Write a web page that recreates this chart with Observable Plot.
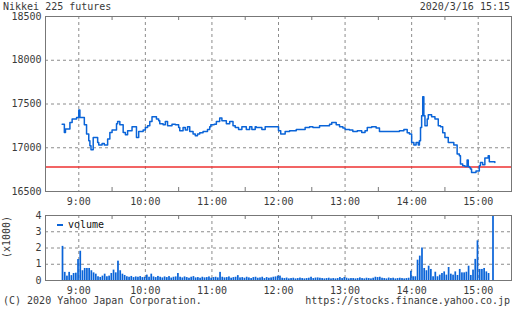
<!DOCTYPE html>
<html><head><meta charset="utf-8">
<script src="https://cdn.jsdelivr.net/npm/d3@7"></script>
<script src="https://cdn.jsdelivr.net/npm/@observablehq/plot@0.6"></script>
<style>
html,body{margin:0;padding:0;background:#fff;}
#chart{position:relative;width:512px;height:310px;overflow:hidden;font-family:"DejaVu Sans Mono",monospace;font-size:10px;color:#3a3a3a;}
.t{position:absolute;white-space:nowrap;line-height:12px;}
#chart svg{position:absolute;left:0;}
.sw{display:inline-block;width:6px;height:2px;background:#0a64d8;vertical-align:middle;margin-right:5px;}
</style></head><body>
<div id="chart">
  <div class="t" style="left:3px;top:1px">Nikkei 225 futures</div>
  <div class="t" style="right:2px;top:1px">2020/3/16 15:15</div>
  <div class="t" style="left:3px;top:295px">(C) 2020 Yahoo Japan Corporation.</div>
  <div class="t" style="right:2px;top:295px">https://stocks.finance.yahoo.co.jp</div>
</div>
<script>
// ---- data ----
const priceTimes = ["08:45","08:47","08:48","08:52","08:54","08:58","09:00","09:01","09:04","09:05","09:07","09:09","09:10","09:11","09:13","09:17","09:18","09:21","09:23","09:26","09:28","09:30","09:34","09:35","09:37","09:40","09:42","09:44","09:48","09:52","09:54","09:58","10:00","10:02","10:04","10:06","10:10","10:12","10:13","10:16","10:18","10:20","10:24","10:27","10:30","10:31","10:34","10:36","10:38","10:40","10:43","10:45","10:47","10:49","10:52","10:56","10:58","10:59","11:02","11:04","11:07","11:09","11:13","11:16","11:19","11:21","11:24","11:27","11:31","11:34","11:36","11:39","11:40","11:45","11:48","12:00","12:02","12:06","12:10","12:16","12:24","12:28","12:31","12:37","12:46","12:48","12:52","12:55","12:58","13:00","13:04","13:07","13:11","13:15","13:18","13:20","13:24","13:28","13:31","13:45","13:49","13:53","13:56","13:58","14:00","14:02","14:04","14:06","14:07","14:08","14:09","14:10","14:11","14:12","14:14","14:15","14:18","14:21","14:24","14:26","14:28","14:30","14:33","14:38","14:41","14:43","14:44","14:46","14:48","14:50","14:51","14:52","14:53","14:54","14:58","15:01","15:02","15:04","15:06","15:09","15:10","15:15"];
const prices = [17270,17175,17214,17290,17328,17347,17431,17347,17347,17264,17157,17080,17023,16977,17118,17060,17031,17050,17031,17099,17175,17203,17275,17300,17264,17175,17149,17195,17240,17118,17186,17203,17232,17251,17300,17355,17328,17310,17275,17264,17300,17251,17270,17264,17232,17195,17232,17203,17240,17186,17157,17137,17157,17172,17186,17210,17240,17263,17270,17300,17340,17310,17275,17300,17251,17232,17210,17240,17210,17240,17210,17240,17232,17210,17240,17195,17157,17186,17195,17210,17232,17240,17232,17251,17270,17290,17264,17240,17225,17210,17203,17186,17195,17175,17195,17232,17240,17225,17186,17186,17195,17210,17172,17157,17060,17031,17060,17031,17080,17232,17366,17583,17366,17251,17328,17377,17355,17328,17251,17240,17172,17118,17060,17031,16928,16908,16813,16795,16786,16859,16786,16775,16756,16717,16735,16795,16832,16805,16882,16908,16840,16832];
const prevClose = 16780;

const volumeStart = "08:45";   // 2-minute bins
const volume = [2.1,0.5,0.27,0.5,0.3,0.43,0.45,1.29,1.8,0.6,0.74,0.74,0.74,0.6,0.47,0.39,0.23,0.19,0.27,0.39,
0.23,0.27,0.43,0.64,0.47,1.19,0.6,0.39,0.31,0.23,0.2,0.25,0.18,0.22,0.2,0.24,0.18,0.2,0.33,0.2,
0.39,0.22,0.18,0.25,0.2,0.16,0.22,0.18,0.24,0.15,0.2,0.22,0.43,0.2,0.16,0.22,0.18,0.14,0.2,0.24,
0.16,0.18,0.14,0.2,0.16,0.18,0.22,0.14,0.18,0.2,0.16,0.5,0.2,0.16,0.18,0.22,0.14,0.18,0.2,0.3,
0.16,0.18,0.14,0.2,0.16,0.12,0.18,0.2,0.14,0.16,0.2,0.12,0.18,0.14,0.16,0.2,0.22,0.27,0.27,0.14,
0.12,0.15,0.1,0.12,0.14,0.1,0.12,0.15,0.12,0.1,0.12,0.14,0.2,0.12,0.15,0.16,0.14,0.12,0.1,0.12,
0.14,0.1,0.12,0.1,0.12,0.18,0.12,0.18,0.14,0.1,0.12,0.12,0.1,0.12,0.16,0.12,0.1,0.14,0.12,0.1,
0.14,0.2,0.18,0.2,0.14,0.12,0.1,0.15,0.12,0.14,0.1,0.12,0.14,0.12,0.1,0.12,0.14,0.57,0.23,0.23,
1.25,1.5,2.0,0.74,0.6,0.88,0.68,0.23,0.51,0.23,0.33,0.43,0.53,0.33,0.8,0.39,0.33,0.53,0.31,0.68,
0.47,0.47,0.51,0.88,0.31,0.64,1.3,2.44,0.68,0.68,0.74,0.53,0.43,0,4.0];

const hourTicks = ["09:00","10:00","11:00","12:00","13:00","14:00","15:00"];
const halfHourTicks = ["09:30","10:30","11:30","12:30","13:30","14:30"];
const priceTicks = [16500,17000,17500,18000,18500];
const volumeTicks = [0,1,2,3,4];

// ---- build ----
const T = s => { const [h,m] = s.split(":").map(Number); return new Date(Date.UTC(2020,2,16,h,m)); };
const fmt = d3.utcFormat("%-H:%M");
const xDomain = [T("08:30"), T("15:30")];
const hours = hourTicks.map(T), halves = halfHourTicks.map(T);
const priceRows = priceTimes.map((t,i)=>({t:T(t), p:prices[i]}));
const v0 = T(volumeStart).getTime();
const volRows = volume.map((v,i)=>({t1:new Date(v0+i*120000), t2:new Date(v0+(i+1)*120000), v}));
const BLUE = "#0a64d8", GRID = "#8c8c8c", FRAME = "#777";
const style = {fontFamily:"DejaVu Sans Mono, monospace", fontSize:"10px", color:"#3a3a3a", background:"transparent", overflow:"visible"};

const main = Plot.plot({
  width:512, height:207, marginTop:16, marginBottom:16, marginLeft:45, marginRight:1,
  style,
  x:{type:"utc", domain:xDomain},
  y:{domain:[16500,18500]},
  marks:[
    Plot.gridX(hours,{stroke:GRID, strokeOpacity:1, strokeDasharray:"3,3"}),
    Plot.gridY(priceTicks.slice(1,-1),{stroke:GRID, strokeOpacity:1, strokeDasharray:"3,3"}),
    Plot.tickX(halves,{x:d=>d, insetBottom:171, stroke:FRAME}),
    Plot.tickX(halves,{x:d=>d, insetTop:171, stroke:FRAME}),
    Plot.ruleY([prevClose],{stroke:"#ee3030", strokeWidth:1.5}),
    Plot.line(priceRows,{x:"t", y:"p", curve:"step-after", stroke:BLUE, strokeWidth:1.5}),
    Plot.frame({stroke:FRAME}),
    Plot.axisX(hours,{tickSize:0, tickPadding:6, tickFormat:fmt, label:null}),
    Plot.axisY(priceTicks,{tickSize:0, tickPadding:4, label:null, tickFormat:d=>String(d)})
  ]
});
main.style.top = "0px";

const vol = Plot.plot({
  width:512, height:90, marginTop:8, marginBottom:17, marginLeft:45, marginRight:1,
  style,
  x:{type:"utc", domain:xDomain},
  y:{domain:[0,4]},
  marks:[
    Plot.gridX(hours,{stroke:GRID, strokeOpacity:1, strokeDasharray:"3,3"}),
    Plot.gridY(volumeTicks.slice(1,-1),{stroke:GRID, strokeOpacity:1, strokeDasharray:"3,3"}),
    Plot.tickX(halves,{x:d=>d, insetBottom:61, stroke:FRAME}),
    Plot.rect(volRows,{x1:"t1", x2:"t2", y1:0, y2:"v", fill:BLUE, insetRight:0.5, clip:true}),
    Plot.frame({stroke:FRAME}),
    Plot.axisX(hours,{tickSize:0, tickPadding:6, tickFormat:fmt, label:null}),
    Plot.axisY(volumeTicks,{tickSize:0, tickPadding:4, label:null}),
    Plot.text(["(x1000)"],{frameAnchor:"left", dx:-39, dy:10, rotate:-90, fill:"#3a3a3a"})
  ]
});
vol.style.top = "207px";

const chart = document.getElementById("chart");
chart.appendChild(main);
chart.appendChild(vol);
const leg = document.createElement("div");
leg.className = "t";
leg.style.left = "57px"; leg.style.top = "219px"; leg.style.color = "#111";
leg.innerHTML = '<span class="sw"></span>volume';
chart.appendChild(leg);
</script>
</body></html>
